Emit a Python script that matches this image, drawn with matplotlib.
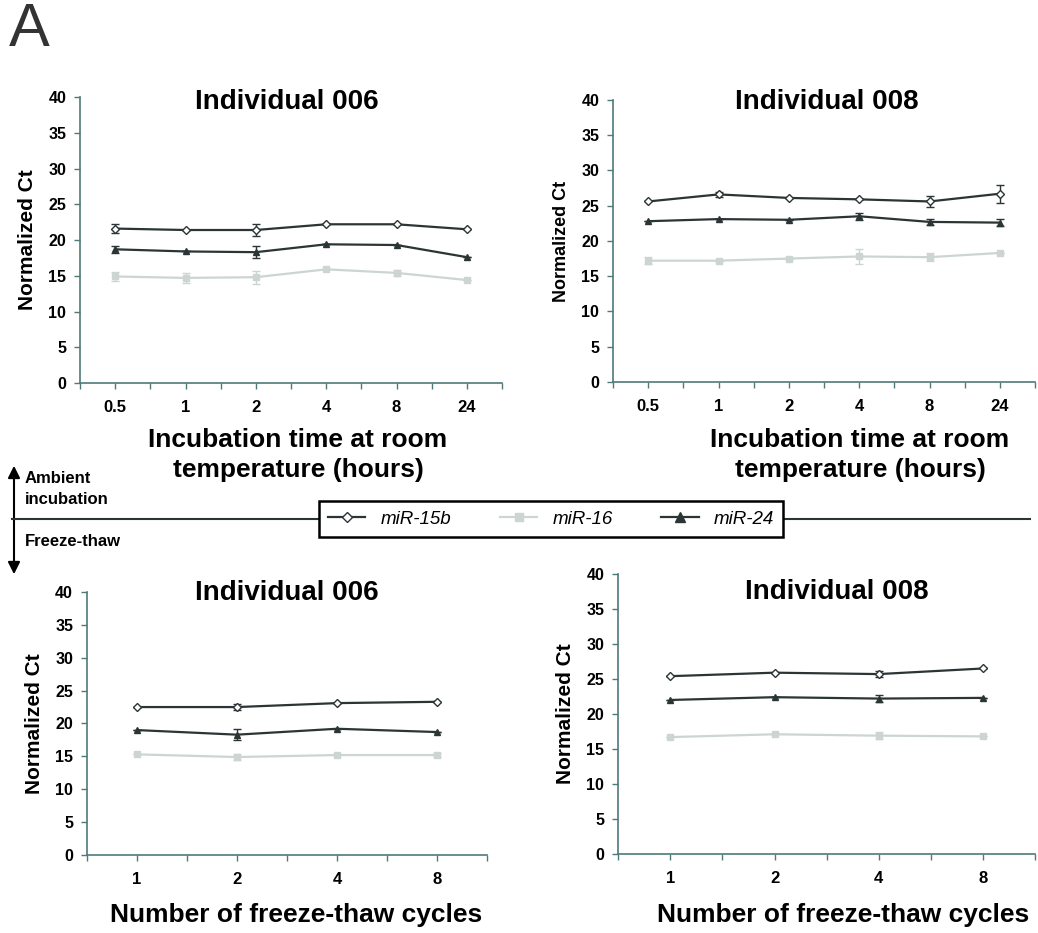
import numpy as np
import matplotlib
matplotlib.use('Agg')
from matplotlib import pyplot as plt
from matplotlib.lines import Line2D
from matplotlib.patches import FancyArrowPatch

plt.rcParams['font.family'] = ['Liberation Sans', 'DejaVu Sans']

# ambient incubation (hours)
hours = ['0.5', '1', '2', '4', '8', '24']
inc006_15b = [21.6, 21.4, 21.4, 22.2, 22.2, 21.5]
inc006_15b_err = [0.6, 0, 0.8, 0, 0, 0]
inc006_16 = [14.9, 14.7, 14.8, 15.9, 15.4, 14.4]
inc006_16_err = [0.6, 0.7, 0.9, 0, 0.4, 0]
inc006_24 = [18.7, 18.4, 18.3, 19.4, 19.3, 17.6]
inc006_24_err = [0.5, 0, 0.8, 0, 0, 0]

inc008_15b = [25.6, 26.6, 26.1, 25.9, 25.6, 26.7]
inc008_15b_err = [0, 0.3, 0, 0, 0.8, 1.3]
inc008_16 = [17.2, 17.2, 17.5, 17.8, 17.7, 18.3]
inc008_16_err = [0.5, 0, 0, 1.1, 0.6, 0]
inc008_24 = [22.8, 23.1, 23.0, 23.5, 22.7, 22.6]
inc008_24_err = [0, 0, 0, 0.5, 0.4, 0.5]

# freeze-thaw cycles
cycles = ['1', '2', '4', '8']
ft006_15b = [22.5, 22.5, 23.1, 23.3]
ft006_15b_err = [0, 0.4, 0, 0]
ft006_16 = [15.3, 14.9, 15.2, 15.2]
ft006_16_err = [0, 0.5, 0, 0.3]
ft006_24 = [19.0, 18.3, 19.2, 18.7]
ft006_24_err = [0, 0.8, 0, 0]

ft008_15b = [25.4, 25.9, 25.7, 26.5]
ft008_15b_err = [0, 0, 0.4, 0]
ft008_16 = [16.7, 17.1, 16.9, 16.8]
ft008_16_err = [0, 0, 0.5, 0]
ft008_24 = [22.0, 22.4, 22.2, 22.3]
ft008_24_err = [0, 0, 0.5, 0]

dark = '#2b3535'
light = '#cdd4d4'
axcol = '#4f7a7a'
W, H = 1038, 933


def fx(px):
    return px / W


def fy(py):
    return 1 - py / H


def panel(rect, cats, s15b, e15b, s16, e16, s24, e24, title, tpos, ylsize):
    ax = fig.add_axes(rect)
    x = np.arange(len(cats))
    ax.errorbar(x, s16, yerr=e16, color=light, lw=1.6, marker='s', ms=5,
                mfc=light, mec=light, capsize=3, elinewidth=1, zorder=2)
    ax.errorbar(x, s24, yerr=e24, color=dark, lw=1.6, marker='^', ms=5,
                mfc=dark, mec=dark, capsize=3, elinewidth=1, zorder=3)
    ax.errorbar(x, s15b, yerr=e15b, color=dark, lw=1.6, marker='D', ms=4.5,
                mfc='white', mec=dark, mew=1, capsize=3, elinewidth=1, zorder=4)
    ax.set_xlim(-0.5, len(cats) - 0.5)
    ax.set_ylim(0, 40)
    ax.set_yticks(range(0, 41, 5))
    ax.set_xticks(x)
    ax.set_xticklabels(cats, fontsize=12, fontweight='bold')
    ax.set_xticks(np.arange(len(cats) + 1) - 0.5, minor=True)
    for lab in ax.get_yticklabels():
        lab.set_fontsize(11.5)
        lab.set_fontweight('bold')
    ax.tick_params(axis='both', which='both', direction='out', length=4,
                   color=axcol, width=1)
    ax.tick_params(axis='x', which='major', pad=8)
    ax.tick_params(axis='y', pad=6)
    for s in ['top', 'right']:
        ax.spines[s].set_visible(False)
    for s in ['left', 'bottom']:
        ax.spines[s].set_color(axcol)
        ax.spines[s].set_linewidth(1.2)
    ax.set_ylabel('Normalized Ct', fontsize=ylsize, fontweight='bold', labelpad=8)
    fig.text(fx(tpos[0]), fy(tpos[1]), title, ha='center', va='center',
             fontsize=20, fontweight='bold')
    return ax


fig = plt.figure(figsize=(10.38, 9.33), dpi=100)

panel([0.0771, 0.5895, 0.4066, 0.3065], hours, inc006_15b, inc006_15b_err,
      inc006_16, inc006_16_err, inc006_24, inc006_24_err, 'Individual 006',
      (287, 102), 15)
panel([0.5906, 0.5906, 0.4066, 0.3023], hours, inc008_15b, inc008_15b_err,
      inc008_16, inc008_16_err, inc008_24, inc008_24_err, 'Individual 008',
      (827, 102), 13)
panel([0.0838, 0.0836, 0.3854, 0.2819], cycles, ft006_15b, ft006_15b_err,
      ft006_16, ft006_16_err, ft006_24, ft006_24_err, 'Individual 006',
      (287, 593), 15)
panel([0.5954, 0.0847, 0.4020, 0.3001], cycles, ft008_15b, ft008_15b_err,
      ft008_16, ft008_16_err, ft008_24, ft008_24_err, 'Individual 008',
      (837, 592), 15)

# x axis titles
for cx in (298, 860):
    fig.text(fx(cx), fy(455), 'Incubation time at room\ntemperature (hours)',
             ha='center', va='center', fontsize=19, fontweight='bold', linespacing=1.3)
fig.text(fx(296), fy(915), 'Number of freeze-thaw cycles',
         ha='center', va='center', fontsize=19, fontweight='bold')
fig.text(fx(843), fy(915), 'Number of freeze-thaw cycles',
         ha='center', va='center', fontsize=19, fontweight='bold')

# panel letter
fig.text(fx(9), fy(30), 'A', ha='left', va='center', fontsize=44, color='#333333')

# divider line, arrow and side labels
fig.add_artist(Line2D([fx(12), fx(1030)], [fy(519), fy(519)],
                      color=dark, lw=1.5, transform=fig.transFigure))
fig.add_artist(FancyArrowPatch((fx(14), fy(463)), (fx(14), fy(577)),
                               transform=fig.transFigure, arrowstyle='<|-|>',
                               mutation_scale=18, color='black', lw=1.5))
fig.text(fx(25), fy(489), 'Ambient\nincubation', ha='left', va='center',
         fontsize=12, fontweight='bold', linespacing=1.5)
fig.text(fx(25), fy(542), 'Freeze-thaw', ha='left', va='center',
         fontsize=12, fontweight='bold')

# legend
handles = [
    Line2D([], [], color=dark, lw=1.6, marker='D', ms=5, mfc='white', mec=dark),
    Line2D([], [], color=light, lw=1.6, marker='s', ms=6, mfc=light, mec=light),
    Line2D([], [], color=dark, lw=1.6, marker='^', ms=7, mfc=dark, mec=dark),
]
leg = fig.legend(handles, ['miR-15b', 'miR-16', 'miR-24'], ncol=3,
                 loc='center', bbox_to_anchor=(fx(551), fy(519)),
                 frameon=True, fancybox=False, framealpha=1, edgecolor='black',
                 prop={'style': 'italic', 'size': 13.5}, handlelength=2.0,
                 columnspacing=2.6, borderpad=0.5, borderaxespad=0)
leg.get_frame().set_linewidth(1.8)

fig.savefig('out.png', dpi=100)
